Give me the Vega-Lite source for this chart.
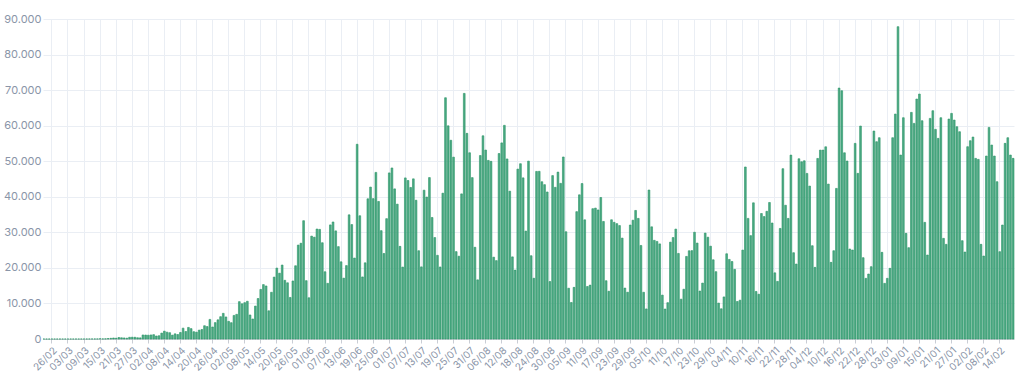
{
"$schema": "https://vega.github.io/schema/vega-lite/v6.json",
"width": 971, "height": 320,
"autosize": {"type": "none"},
"padding": {"left": 43, "top": 19, "right": 10, "bottom": 42},
"background": "white",
"config": {
 "locale": {"number": {"decimal": ",", "thousands": ".", "grouping": [3], "currency": ["", ""]}},
 "view": {"stroke": null},
 "font": "Inter"
},
"data": {"values": [
{"d":"23/02","c":0},{"d":"24/02","c":0},{"d":"25/02","c":0},{"d":"26/02","c":1},{"d":"27/02","c":0},{"d":"28/02","c":0},{"d":"29/02","c":1},
{"d":"01/03","c":0},{"d":"02/03","c":0},{"d":"03/03","c":0},{"d":"04/03","c":1},{"d":"05/03","c":4},{"d":"06/03","c":6},{"d":"07/03","c":6},{"d":"08/03","c":6},{"d":"09/03","c":5},{"d":"10/03","c":9},{"d":"11/03","c":18},{"d":"12/03","c":25},{"d":"13/03","c":21},{"d":"14/03","c":23},{"d":"15/03","c":79},{"d":"16/03","c":34},{"d":"17/03","c":57},{"d":"18/03","c":137},{"d":"19/03","c":193},{"d":"20/03","c":283},{"d":"21/03","c":224},{"d":"22/03","c":418},{"d":"23/03","c":345},{"d":"24/03","c":310},{"d":"25/03","c":232},{"d":"26/03","c":482},{"d":"27/03","c":502},{"d":"28/03","c":487},{"d":"29/03","c":352},{"d":"30/03","c":323},{"d":"31/03","c":1138},
{"d":"01/04","c":1119},{"d":"02/04","c":1074},{"d":"03/04","c":1146},{"d":"04/04","c":1222},{"d":"05/04","c":852},{"d":"06/04","c":926},{"d":"07/04","c":1661},{"d":"08/04","c":2210},{"d":"09/04","c":1930},{"d":"10/04","c":1781},{"d":"11/04","c":1089},{"d":"12/04","c":1442},{"d":"13/04","c":1261},{"d":"14/04","c":1832},{"d":"15/04","c":3058},{"d":"16/04","c":2105},{"d":"17/04","c":3257},{"d":"18/04","c":2917},{"d":"19/04","c":2055},{"d":"20/04","c":1927},{"d":"21/04","c":2498},{"d":"22/04","c":2678},{"d":"23/04","c":3735},{"d":"24/04","c":3503},{"d":"25/04","c":5514},{"d":"26/04","c":3379},{"d":"27/04","c":4613},{"d":"28/04","c":5385},{"d":"29/04","c":6276},{"d":"30/04","c":7218},
{"d":"01/05","c":6209},{"d":"02/05","c":4970},{"d":"03/05","c":4588},{"d":"04/05","c":6633},{"d":"05/05","c":6935},{"d":"06/05","c":10503},{"d":"07/05","c":9888},{"d":"08/05","c":10222},{"d":"09/05","c":10611},{"d":"10/05","c":6760},{"d":"11/05","c":5632},{"d":"12/05","c":9258},{"d":"13/05","c":11385},{"d":"14/05","c":13944},{"d":"15/05","c":15305},{"d":"16/05","c":14919},{"d":"17/05","c":7938},{"d":"18/05","c":13140},{"d":"19/05","c":17408},{"d":"20/05","c":19951},{"d":"21/05","c":18508},{"d":"22/05","c":20803},{"d":"23/05","c":16508},{"d":"24/05","c":15813},{"d":"25/05","c":11687},{"d":"26/05","c":16324},{"d":"27/05","c":20599},{"d":"28/05","c":26417},{"d":"29/05","c":26928},{"d":"30/05","c":33274},{"d":"31/05","c":16409},
{"d":"01/06","c":11598},{"d":"02/06","c":28936},{"d":"03/06","c":28633},{"d":"04/06","c":30925},{"d":"05/06","c":30830},{"d":"06/06","c":27075},{"d":"07/06","c":18912},{"d":"08/06","c":15654},{"d":"09/06","c":32091},{"d":"10/06","c":32913},{"d":"11/06","c":30412},{"d":"12/06","c":25982},{"d":"13/06","c":21704},{"d":"14/06","c":17110},{"d":"15/06","c":20647},{"d":"16/06","c":34918},{"d":"17/06","c":32188},{"d":"18/06","c":22765},{"d":"19/06","c":54771},{"d":"20/06","c":34666},{"d":"21/06","c":17459},{"d":"22/06","c":21432},{"d":"23/06","c":39436},{"d":"24/06","c":42725},{"d":"25/06","c":39483},{"d":"26/06","c":46860},{"d":"27/06","c":38693},{"d":"28/06","c":30476},{"d":"29/06","c":24052},{"d":"30/06","c":33846},
{"d":"01/07","c":46712},{"d":"02/07","c":48105},{"d":"03/07","c":42223},{"d":"04/07","c":37923},{"d":"05/07","c":26051},{"d":"06/07","c":20229},{"d":"07/07","c":45305},{"d":"08/07","c":44571},{"d":"09/07","c":42619},{"d":"10/07","c":45048},{"d":"11/07","c":39023},{"d":"12/07","c":24831},{"d":"13/07","c":20286},{"d":"14/07","c":41857},{"d":"15/07","c":39924},{"d":"16/07","c":45403},{"d":"17/07","c":34177},{"d":"18/07","c":28532},{"d":"19/07","c":23529},{"d":"20/07","c":20257},{"d":"21/07","c":41008},{"d":"22/07","c":67860},{"d":"23/07","c":59961},{"d":"24/07","c":55891},{"d":"25/07","c":51147},{"d":"26/07","c":24578},{"d":"27/07","c":23284},{"d":"28/07","c":40816},{"d":"29/07","c":69074},{"d":"30/07","c":57837},{"d":"31/07","c":52383},
{"d":"01/08","c":45392},{"d":"02/08","c":25800},{"d":"03/08","c":16641},{"d":"04/08","c":51603},{"d":"05/08","c":57152},{"d":"06/08","c":53139},{"d":"07/08","c":50230},{"d":"08/08","c":49970},{"d":"09/08","c":23010},{"d":"10/08","c":22048},{"d":"11/08","c":52160},{"d":"12/08","c":55155},{"d":"13/08","c":60091},{"d":"14/08","c":50644},{"d":"15/08","c":41576},{"d":"16/08","c":23101},{"d":"17/08","c":19373},{"d":"18/08","c":47784},{"d":"19/08","c":49298},{"d":"20/08","c":45323},{"d":"21/08","c":30355},{"d":"22/08","c":50032},{"d":"23/08","c":23421},{"d":"24/08","c":17078},{"d":"25/08","c":47134},{"d":"26/08","c":47161},{"d":"27/08","c":44235},{"d":"28/08","c":43412},{"d":"29/08","c":41350},{"d":"30/08","c":16158},{"d":"31/08","c":45961},
{"d":"01/09","c":42659},{"d":"02/09","c":46934},{"d":"03/09","c":43773},{"d":"04/09","c":51194},{"d":"05/09","c":30168},{"d":"06/09","c":14279},{"d":"07/09","c":10273},{"d":"08/09","c":14521},{"d":"09/09","c":35816},{"d":"10/09","c":40557},{"d":"11/09","c":43718},{"d":"12/09","c":33523},{"d":"13/09","c":14768},{"d":"14/09","c":15155},{"d":"15/09","c":36653},{"d":"16/09","c":36820},{"d":"17/09","c":36303},{"d":"18/09","c":39797},{"d":"19/09","c":33057},{"d":"20/09","c":16389},{"d":"21/09","c":13439},{"d":"22/09","c":33536},{"d":"23/09","c":32817},{"d":"24/09","c":32445},{"d":"25/09","c":31911},{"d":"26/09","c":28378},{"d":"27/09","c":14318},{"d":"28/09","c":13155},{"d":"29/09","c":32058},{"d":"30/09","c":33413},
{"d":"01/10","c":36157},{"d":"02/10","c":33922},{"d":"03/10","c":26310},{"d":"04/10","c":13140},{"d":"05/10","c":8456},{"d":"06/10","c":41906},{"d":"07/10","c":31553},{"d":"08/10","c":27750},{"d":"09/10","c":27444},{"d":"10/10","c":26749},{"d":"11/10","c":12342},{"d":"12/10","c":8429},{"d":"13/10","c":10220},{"d":"14/10","c":27235},{"d":"15/10","c":28523},{"d":"16/10","c":30914},{"d":"17/10","c":24062},{"d":"18/10","c":11203},{"d":"19/10","c":14000},{"d":"20/10","c":23227},{"d":"21/10","c":24818},{"d":"22/10","c":24858},{"d":"23/10","c":30026},{"d":"24/10","c":26979},{"d":"25/10","c":13493},{"d":"26/10","c":15726},{"d":"27/10","c":29787},{"d":"28/10","c":28629},{"d":"29/10","c":26106},{"d":"30/10","c":22282},{"d":"31/10","c":18947},
{"d":"01/11","c":10100},{"d":"02/11","c":8501},{"d":"03/11","c":11843},{"d":"04/11","c":23976},{"d":"05/11","c":22380},{"d":"06/11","c":21787},{"d":"07/11","c":19583},{"d":"08/11","c":10554},{"d":"09/11","c":10917},{"d":"10/11","c":25012},{"d":"11/11","c":48380},{"d":"12/11","c":33922},{"d":"13/11","c":29070},{"d":"14/11","c":38307},{"d":"15/11","c":13371},{"d":"16/11","c":12593},{"d":"17/11","c":35294},{"d":"18/11","c":34426},{"d":"19/11","c":35918},{"d":"20/11","c":38397},{"d":"21/11","c":32622},{"d":"22/11","c":18615},{"d":"23/11","c":16207},{"d":"24/11","c":31100},{"d":"25/11","c":47898},{"d":"26/11","c":37614},{"d":"27/11","c":33919},{"d":"28/11","c":51722},{"d":"29/11","c":24270},{"d":"30/11","c":21082},
{"d":"01/12","c":50692},{"d":"02/12","c":49848},{"d":"03/12","c":50130},{"d":"04/12","c":46569},{"d":"05/12","c":43008},{"d":"06/12","c":26236},{"d":"07/12","c":20145},{"d":"08/12","c":50786},{"d":"09/12","c":53128},{"d":"10/12","c":53128},{"d":"11/12","c":54065},{"d":"12/12","c":43570},{"d":"13/12","c":21551},{"d":"14/12","c":24831},{"d":"15/12","c":42353},{"d":"16/12","c":70574},{"d":"17/12","c":69826},{"d":"18/12","c":52378},{"d":"19/12","c":50052},{"d":"20/12","c":25307},{"d":"21/12","c":25026},{"d":"22/12","c":55020},{"d":"23/12","c":46584},{"d":"24/12","c":59894},{"d":"25/12","c":22870},{"d":"26/12","c":17059},{"d":"27/12","c":18277},{"d":"28/12","c":20339},{"d":"29/12","c":58488},{"d":"30/12","c":55489},{"d":"31/12","c":56614},
{"d":"01/01","c":24370},{"d":"02/01","c":15653},{"d":"03/01","c":17059},{"d":"04/01","c":19871},{"d":"05/01","c":56614},{"d":"06/01","c":63268},{"d":"07/01","c":87843},{"d":"08/01","c":51739},{"d":"09/01","c":62237},{"d":"10/01","c":29712},{"d":"11/01","c":25682},{"d":"12/01","c":63737},{"d":"13/01","c":60644},{"d":"14/01","c":67486},{"d":"15/01","c":68892},{"d":"16/01","c":61393},{"d":"17/01","c":32806},{"d":"18/01","c":23620},{"d":"19/01","c":62049},{"d":"20/01","c":64205},{"d":"21/01","c":58956},{"d":"22/01","c":56426},{"d":"23/01","c":62237},{"d":"24/01","c":28306},{"d":"25/01","c":26619},{"d":"26/01","c":61861},{"d":"27/01","c":63455},{"d":"28/01","c":61580},{"d":"29/01","c":59706},{"d":"30/01","c":58300},{"d":"31/01","c":27650},
{"d":"01/02","c":24464},{"d":"02/02","c":54082},{"d":"03/02","c":55770},{"d":"04/02","c":56801},{"d":"05/02","c":50802},{"d":"06/02","c":50521},{"d":"07/02","c":26619},{"d":"08/02","c":23339},{"d":"09/02","c":51458},{"d":"10/02","c":59518},{"d":"11/02","c":54550},{"d":"12/02","c":51458},{"d":"13/02","c":44241},{"d":"14/02","c":24558},{"d":"15/02","c":32056},{"d":"16/02","c":55020},{"d":"17/02","c":56614},{"d":"18/02","c":51739},{"d":"19/02","c":50802}
]},
"mark": {"type": "bar", "fill": "#4caa84", "stroke": "#2a9466", "strokeWidth": 0.6},
"encoding": {
 "x": {"field": "d", "type": "ordinal", "sort": null,
  "scale": {"paddingInner": 0.35, "paddingOuter": 0},
  "axis": {"title": null, "bandPosition": 0.5,
   "values": ["26/02","03/03","09/03","15/03","21/03","27/03","02/04","08/04","14/04","20/04","26/04","02/05","08/05","14/05","20/05","26/05","01/06","07/06","13/06","19/06","25/06","01/07","07/07","13/07","19/07","25/07","31/07","06/08","12/08","18/08","24/08","30/08","05/09","11/09","17/09","23/09","29/09","05/10","11/10","17/10","23/10","29/10","04/11","10/11","16/11","22/11","28/11","04/12","10/12","16/12","22/12","28/12","03/01","09/01","15/01","21/01","27/01","02/02","08/02","14/02"],
   "labelAngle": -45, "labelFontSize": 10, "labelColor": "#8a95a8", "labelFont": "Inter",
   "grid": true, "gridColor": "#eaeef4", "domainColor": "#c9cdd4", "tickColor": "#c9cdd4", "tickSize": 4, "labelPadding": 2}},
 "y": {"field": "c", "type": "quantitative",
  "scale": {"domain": [0, 90000], "nice": false},
  "axis": {"title": null, "values": [0,10000,20000,30000,40000,50000,60000,70000,80000,90000], "format": ",.0f",
   "labelFontSize": 11, "labelColor": "#8a95a8", "labelFont": "Inter", "domain": false, "ticks": false,
   "gridColor": "#eaeef4", "labelPadding": 2}}
}
}
